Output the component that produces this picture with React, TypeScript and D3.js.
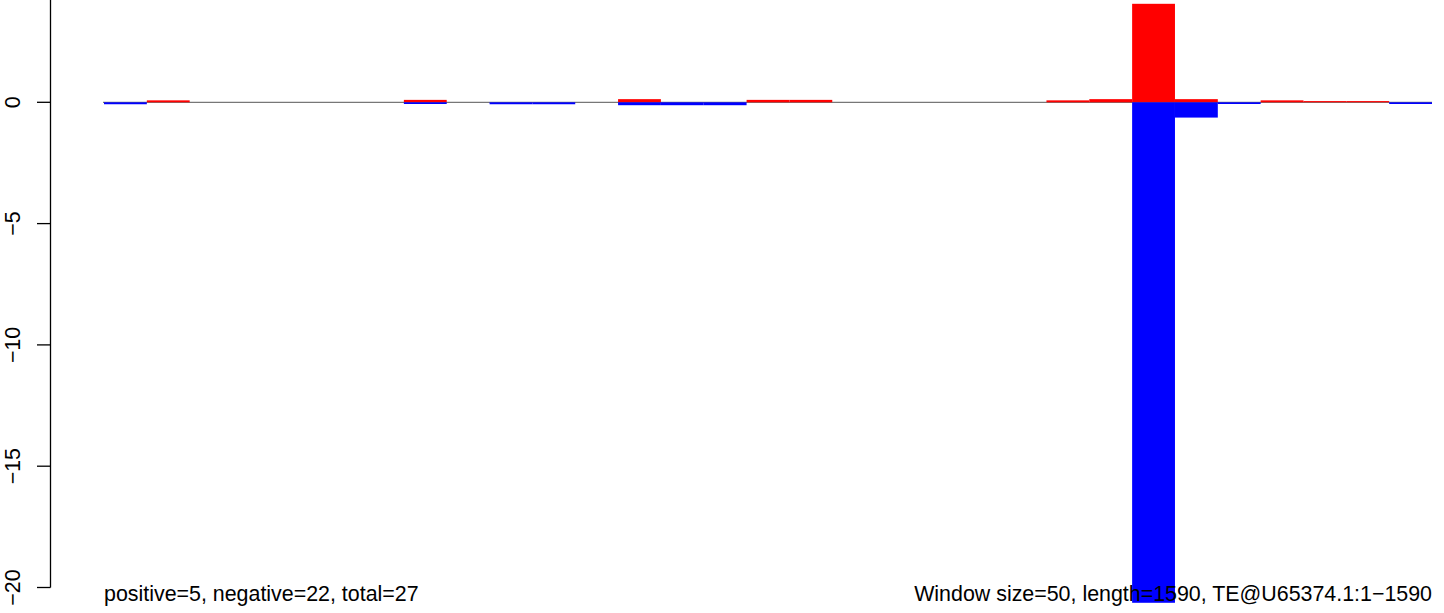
import React from "react";
import * as d3 from "d3";

// Window size 50 bp, sequence length 1590 -> 31 full windows
const windowSize = 50;
const seqLength = 1590;
const windowStarts: number[] = d3.range(0, 31).map((i) => i * windowSize);

// Positive-strand (red) values per window
const positiveValues: number[] = [
  0, 0.08, 0, 0, 0, 0, 0, 0.1, 0, 0,
  0, 0, 0.13, 0, 0, 0.1, 0.1, 0, 0, 0,
  0, 0, 0.08, 0.13, 4.06, 0.13, 0, 0.08, 0.05, 0.05,
  0,
];

// Negative-strand (blue) values per window
const negativeValues: number[] = [
  -0.08, 0, 0, 0, 0, 0, 0, -0.07, 0, -0.08,
  -0.08, 0, -0.12, -0.12, -0.12, 0, 0, 0, 0, 0,
  0, 0, 0, 0, -20.63, -0.63, -0.07, 0, 0, 0,
  -0.07,
];

const yTicks: number[] = [0, -5, -10, -15, -20];
const axisTop = 5; // axis continues above the visible area
const leftLabel = "positive=5, negative=22, total=27";
const rightLabel = "Window size=50, length=1590, TE@U65374.1:1\u22121590";

const W = 1444;
const H = 613;
const FONT = "'Liberation Sans', Arial, Helvetica, sans-serif";
const FS = 21.4;

export default function App() {
  const x = d3
    .scaleLinear()
    .domain([0, windowStarts.length * windowSize])
    .range([104, 1432]);
  const y = d3.scaleLinear().domain([-20, 0]).range([587.5, 102.3]);
  const axisX = 50.5;
  const fmt = (v: number) => (v < 0 ? "\u2212" + Math.abs(v) : String(v));

  return (
    <svg
      width={W}
      height={H}
      style={{ position: "absolute", left: 0, top: 0, background: "#fff" }}
      fontFamily={FONT}
      data-length={seqLength}
    >
      <rect x={0} y={0} width={W} height={H} fill="#fff" />
      {/* zero line */}
      <line
        x1={x(0) - 1}
        x2={x(windowStarts.length * windowSize)}
        y1={y(0)}
        y2={y(0)}
        stroke="#555"
        strokeWidth={1}
      />
      {/* positive bars */}
      {windowStarts.map((s, i) =>
        positiveValues[i] > 0 ? (
          <rect
            key={"p" + i}
            x={x(s)}
            width={x(s + windowSize) - x(s)}
            y={y(positiveValues[i])}
            height={y(0) - y(positiveValues[i])}
            fill="#ff0000"
          />
        ) : null
      )}
      {/* negative bars */}
      {windowStarts.map((s, i) =>
        negativeValues[i] < 0 ? (
          <rect
            key={"n" + i}
            x={x(s)}
            width={x(s + windowSize) - x(s)}
            y={y(0)}
            height={y(negativeValues[i]) - y(0)}
            fill="#0000ff"
          />
        ) : null
      )}
      {/* y axis */}
      <line
        x1={axisX}
        x2={axisX}
        y1={y(axisTop)}
        y2={y(yTicks[yTicks.length - 1])}
        stroke="#000"
        strokeWidth={1.3}
      />
      {yTicks.map((t) => (
        <g key={"t" + t}>
          <line
            x1={37}
            x2={axisX}
            y1={y(t)}
            y2={y(t)}
            stroke="#000"
            strokeWidth={1.3}
          />
          <text
            transform={`translate(20,${y(t)}) rotate(-90)`}
            textAnchor="middle"
            fontSize={FS}
            fill="#000"
          >
            {fmt(t)}
          </text>
        </g>
      ))}
      {/* annotations */}
      <text x={x(0)} y={601} fontSize={FS} fill="#000" textAnchor="start">
        {leftLabel}
      </text>
      <text
        x={x(windowStarts.length * windowSize)}
        y={601}
        fontSize={FS}
        fill="#000"
        textAnchor="end"
      >
        {rightLabel}
      </text>
    </svg>
  );
}
